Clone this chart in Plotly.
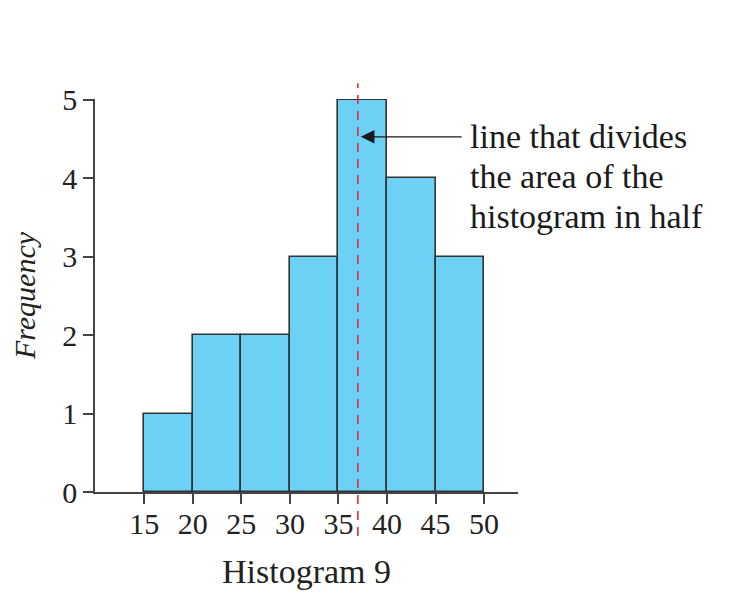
import plotly.graph_objects as go

bin_left = [15, 20, 25, 30, 35, 40, 45]
bin_width = 5
counts = [1, 2, 2, 3, 5, 4, 3]
x_ticks = [15, 20, 25, 30, 35, 40, 45, 50]
y_ticks = [0, 1, 2, 3, 4, 5]
median_x = 37
arrow_y = 4.53
label_lines = ["line that divides", "the area of the", "histogram in half"]

FONT = "Liberation Serif"
INK = "#222222"

fig = go.Figure()
fig.add_trace(go.Bar(
    x=[b + bin_width / 2 for b in bin_left],
    y=counts,
    width=bin_width,
    cliponaxis=False,
    marker=dict(color="#6dd0f5", line=dict(color="#333333", width=1.6)),
    hoverinfo="skip",
))

# dashed median line
fig.add_shape(type="line", xref="x", yref="paper",
              x0=median_x, x1=median_x, y0=-0.112, y1=1.04,
              line=dict(color="#d8323e", width=1.6, dash="9px,7px"))

# arrow
fig.add_annotation(x=median_x + 0.3, y=arrow_y, xref="x", yref="y",
                   ax=47.85, ay=arrow_y, axref="x", ayref="y",
                   text="", showarrow=True, arrowhead=2, arrowsize=2.1,
                   arrowwidth=1.3, arrowcolor="#1a1a1a")
for i, line in enumerate(label_lines):
    fig.add_annotation(x=48.3, y=arrow_y, xref="x", yref="y",
                       text=line, showarrow=False, xanchor="left", yanchor="middle",
                       yshift=-40 * i, align="left",
                       font=dict(family=FONT, size=34, color="#1a1a1a"))

fig.update_layout(
    width=729, height=595,
    margin=dict(l=87, r=219, t=91, b=111),
    paper_bgcolor="white", plot_bgcolor="white",
    showlegend=False,
    bargap=0,
    font=dict(family=FONT, color=INK),
    xaxis=dict(range=[9.92, 53.5], tickvals=x_ticks, ticks="outside", ticklen=10,
               tickwidth=1.5, tickcolor="#444", showline=True, linecolor="#444",
               linewidth=1.5, showgrid=False, zeroline=False,
               ticklabelstandoff=-6,
               tickfont=dict(family=FONT, size=30, color=INK),
               title=dict(text="Histogram 9", standoff=20,
                          font=dict(family=FONT, size=34, color=INK))),
    yaxis=dict(range=[0, 5.012], tickvals=y_ticks, ticks="outside", ticklen=10,
               tickwidth=1.5, tickcolor="#444", showline=True, linecolor="#444",
               linewidth=1.5, showgrid=False, zeroline=False,
               tickfont=dict(family=FONT, size=30, color=INK),
               title=dict(text="<i>Frequency</i>", standoff=20,
                          font=dict(family=FONT, size=30, color=INK))),
)

fig.write_html("out.html")
